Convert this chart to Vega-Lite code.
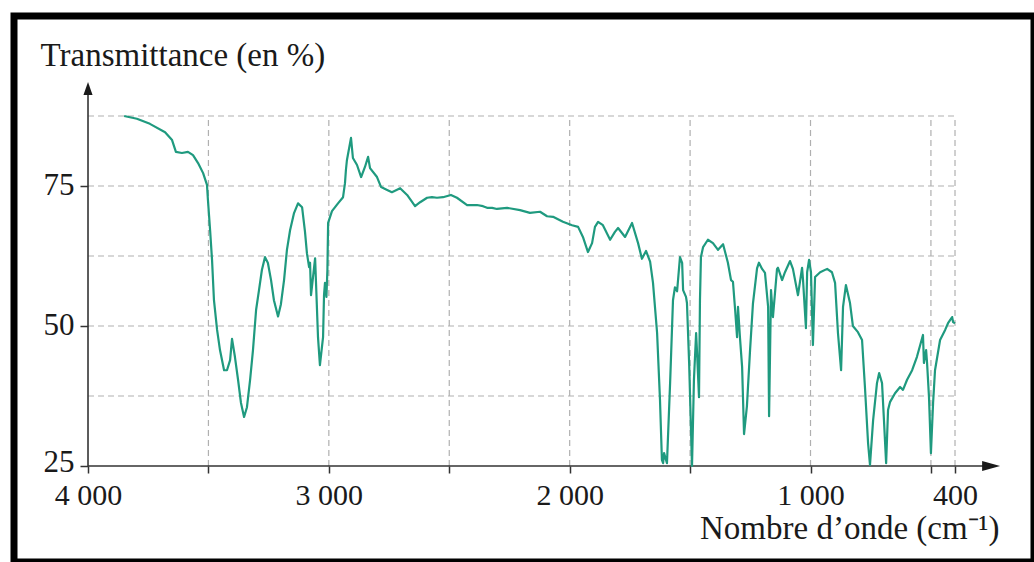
{
  "$schema": "https://vega.github.io/schema/vega-lite/v6.json",
  "width": 1020,
  "height": 546,
  "autosize": "none",
  "padding": {"left": 14, "top": 16, "right": 0, "bottom": 0},
  "background": "white",
  "config": {"view": {"stroke": "#000000", "strokeWidth": 7}},
  "datasets": {
    "grid": [
      {"x": 3500, "x2": 3500, "y": 25, "y2": 87.5},
      {"x": 3000, "x2": 3000, "y": 25, "y2": 87.5},
      {"x": 2500, "x2": 2500, "y": 25, "y2": 87.5},
      {"x": 2000, "x2": 2000, "y": 25, "y2": 87.5},
      {"x": 1500, "x2": 1500, "y": 25, "y2": 87.5},
      {"x": 1000, "x2": 1000, "y": 25, "y2": 87.5},
      {"x": 500, "x2": 500, "y": 25, "y2": 87.5},
      {"x": 400, "x2": 400, "y": 25, "y2": 87.5},
      {"x": 4000, "x2": 400, "y": 37.5, "y2": 37.5},
      {"x": 4000, "x2": 400, "y": 50, "y2": 50},
      {"x": 4000, "x2": 400, "y": 62.5, "y2": 62.5},
      {"x": 4000, "x2": 400, "y": 75, "y2": 75},
      {"x": 4000, "x2": 400, "y": 87.5, "y2": 87.5}
    ],
    "axislines": [
      {"x": 4000, "x2": 272, "y": 25, "y2": 25},
      {"x": 4000, "x2": 4000, "y": 25, "y2": 91.8}
    ],
    "arrowx": [{"x": 250, "y": 25}],
    "arrowy": [{"x": 4000, "y": 92.4}],
    "spectrum": [
      {"x": 3850, "y": 87.5},
      {"x": 3797, "y": 87.0},
      {"x": 3743, "y": 86.1},
      {"x": 3680, "y": 84.6},
      {"x": 3651, "y": 83.2},
      {"x": 3635, "y": 81.1},
      {"x": 3610, "y": 80.9},
      {"x": 3585, "y": 81.1},
      {"x": 3564, "y": 80.5},
      {"x": 3543, "y": 79.1},
      {"x": 3522, "y": 77.3},
      {"x": 3506, "y": 75.2},
      {"x": 3502, "y": 72.5},
      {"x": 3493, "y": 67.1},
      {"x": 3485, "y": 61.8},
      {"x": 3477, "y": 54.6},
      {"x": 3464, "y": 49.3},
      {"x": 3452, "y": 45.7},
      {"x": 3435, "y": 42.1},
      {"x": 3423, "y": 42.1},
      {"x": 3410, "y": 43.9},
      {"x": 3402, "y": 47.7},
      {"x": 3390, "y": 44.5},
      {"x": 3377, "y": 40.4},
      {"x": 3365, "y": 36.3},
      {"x": 3352, "y": 33.75},
      {"x": 3340, "y": 35.5},
      {"x": 3327, "y": 40.4},
      {"x": 3315, "y": 45.7},
      {"x": 3302, "y": 52.9},
      {"x": 3290, "y": 56.4},
      {"x": 3278, "y": 60.0},
      {"x": 3265, "y": 62.3},
      {"x": 3253, "y": 61.25},
      {"x": 3240, "y": 58.2},
      {"x": 3228, "y": 54.6},
      {"x": 3211, "y": 51.7},
      {"x": 3199, "y": 53.9},
      {"x": 3186, "y": 58.2},
      {"x": 3174, "y": 63.6},
      {"x": 3161, "y": 67.1},
      {"x": 3145, "y": 70.1},
      {"x": 3128, "y": 71.9},
      {"x": 3111, "y": 71.2},
      {"x": 3099, "y": 66.8},
      {"x": 3091, "y": 63.0},
      {"x": 3082, "y": 60.5},
      {"x": 3078, "y": 61.3},
      {"x": 3074, "y": 55.5},
      {"x": 3057, "y": 62.1},
      {"x": 3045, "y": 48.0},
      {"x": 3037, "y": 43.0},
      {"x": 3024, "y": 48.0},
      {"x": 3020, "y": 55.5},
      {"x": 3016, "y": 57.7},
      {"x": 3010, "y": 55.2},
      {"x": 3006, "y": 60.0},
      {"x": 3003, "y": 68.4},
      {"x": 2987, "y": 70.5},
      {"x": 2962, "y": 71.9},
      {"x": 2941, "y": 73.0},
      {"x": 2933, "y": 75.5},
      {"x": 2929, "y": 77.9},
      {"x": 2925, "y": 79.6},
      {"x": 2908, "y": 83.6},
      {"x": 2900, "y": 80.0},
      {"x": 2883, "y": 78.75},
      {"x": 2866, "y": 76.6},
      {"x": 2850, "y": 78.4},
      {"x": 2837, "y": 80.2},
      {"x": 2829, "y": 78.2},
      {"x": 2800, "y": 76.6},
      {"x": 2783, "y": 74.8},
      {"x": 2758, "y": 74.3},
      {"x": 2738, "y": 73.9},
      {"x": 2704, "y": 74.6},
      {"x": 2675, "y": 73.4},
      {"x": 2642, "y": 71.4},
      {"x": 2621, "y": 72.1},
      {"x": 2592, "y": 72.9},
      {"x": 2572, "y": 73.0},
      {"x": 2551, "y": 72.9},
      {"x": 2526, "y": 73.0},
      {"x": 2493, "y": 73.4},
      {"x": 2468, "y": 72.9},
      {"x": 2426, "y": 71.6},
      {"x": 2385, "y": 71.6},
      {"x": 2360, "y": 71.4},
      {"x": 2343, "y": 71.1},
      {"x": 2322, "y": 71.1},
      {"x": 2302, "y": 70.9},
      {"x": 2260, "y": 71.1},
      {"x": 2206, "y": 70.7},
      {"x": 2165, "y": 70.2},
      {"x": 2123, "y": 70.4},
      {"x": 2094, "y": 69.6},
      {"x": 2069, "y": 69.5},
      {"x": 2028, "y": 68.6},
      {"x": 1990, "y": 68.0},
      {"x": 1965, "y": 67.7},
      {"x": 1945, "y": 65.9},
      {"x": 1924, "y": 63.2},
      {"x": 1907, "y": 64.8},
      {"x": 1895, "y": 67.7},
      {"x": 1882, "y": 68.6},
      {"x": 1862, "y": 68.0},
      {"x": 1832, "y": 65.4},
      {"x": 1812, "y": 66.8},
      {"x": 1799, "y": 67.5},
      {"x": 1770, "y": 65.9},
      {"x": 1741, "y": 68.4},
      {"x": 1716, "y": 64.8},
      {"x": 1700, "y": 62.0},
      {"x": 1683, "y": 63.4},
      {"x": 1666, "y": 61.5},
      {"x": 1654, "y": 57.7},
      {"x": 1637, "y": 48.75},
      {"x": 1625, "y": 36.8},
      {"x": 1617, "y": 26.1},
      {"x": 1612, "y": 25.5},
      {"x": 1608, "y": 27.3},
      {"x": 1596, "y": 25.5},
      {"x": 1583, "y": 39.8},
      {"x": 1571, "y": 54.6},
      {"x": 1563, "y": 56.9},
      {"x": 1554, "y": 56.2},
      {"x": 1542, "y": 62.3},
      {"x": 1533, "y": 61.25},
      {"x": 1529, "y": 56.4},
      {"x": 1517, "y": 55.2},
      {"x": 1513, "y": 54.1},
      {"x": 1504, "y": 43.4},
      {"x": 1492, "y": 25.0},
      {"x": 1484, "y": 40.4},
      {"x": 1475, "y": 48.75},
      {"x": 1471, "y": 45.2},
      {"x": 1463, "y": 37.3},
      {"x": 1459, "y": 54.6},
      {"x": 1455, "y": 62.3},
      {"x": 1446, "y": 64.1},
      {"x": 1426, "y": 65.4},
      {"x": 1405, "y": 64.8},
      {"x": 1384, "y": 63.6},
      {"x": 1363, "y": 64.6},
      {"x": 1343, "y": 61.3},
      {"x": 1330, "y": 58.2},
      {"x": 1322, "y": 57.9},
      {"x": 1313, "y": 52.9},
      {"x": 1305, "y": 48.0},
      {"x": 1301, "y": 53.4},
      {"x": 1293, "y": 48.0},
      {"x": 1284, "y": 42.7},
      {"x": 1276, "y": 30.7},
      {"x": 1264, "y": 35.7},
      {"x": 1251, "y": 45.7},
      {"x": 1239, "y": 54.0},
      {"x": 1222, "y": 60.3},
      {"x": 1214, "y": 61.3},
      {"x": 1201, "y": 60.2},
      {"x": 1189, "y": 59.5},
      {"x": 1176, "y": 53.4},
      {"x": 1172, "y": 33.9},
      {"x": 1164, "y": 56.4},
      {"x": 1156, "y": 51.6},
      {"x": 1139, "y": 60.2},
      {"x": 1135, "y": 60.4},
      {"x": 1118, "y": 58.2},
      {"x": 1106, "y": 59.6},
      {"x": 1085, "y": 61.6},
      {"x": 1073, "y": 60.2},
      {"x": 1052, "y": 55.5},
      {"x": 1035, "y": 60.4},
      {"x": 1031, "y": 58.2},
      {"x": 1019, "y": 49.6},
      {"x": 1014, "y": 59.6},
      {"x": 1006, "y": 61.8},
      {"x": 998, "y": 59.6},
      {"x": 990, "y": 46.6},
      {"x": 981, "y": 58.75},
      {"x": 960, "y": 59.6},
      {"x": 931, "y": 60.2},
      {"x": 911, "y": 59.6},
      {"x": 898, "y": 57.7},
      {"x": 886, "y": 48.75},
      {"x": 873, "y": 42.1},
      {"x": 865, "y": 53.4},
      {"x": 853, "y": 57.3},
      {"x": 836, "y": 54.1},
      {"x": 824, "y": 50.0},
      {"x": 803, "y": 48.9},
      {"x": 786, "y": 47.5},
      {"x": 774, "y": 39.1},
      {"x": 761, "y": 29.1},
      {"x": 753, "y": 25.2},
      {"x": 740, "y": 33.2},
      {"x": 724, "y": 39.8},
      {"x": 715, "y": 41.6},
      {"x": 703, "y": 39.8},
      {"x": 695, "y": 33.2},
      {"x": 686, "y": 25.5},
      {"x": 678, "y": 35.0},
      {"x": 670, "y": 36.4},
      {"x": 649, "y": 38.0},
      {"x": 628, "y": 39.1},
      {"x": 616, "y": 38.6},
      {"x": 599, "y": 40.4},
      {"x": 578, "y": 42.1},
      {"x": 558, "y": 44.5},
      {"x": 533, "y": 48.4},
      {"x": 529, "y": 43.4},
      {"x": 520, "y": 45.7},
      {"x": 516, "y": 43.4},
      {"x": 508, "y": 37.3},
      {"x": 500, "y": 27.3},
      {"x": 491, "y": 36.25},
      {"x": 483, "y": 42.1},
      {"x": 462, "y": 47.5},
      {"x": 441, "y": 49.3},
      {"x": 429, "y": 50.5},
      {"x": 412, "y": 51.6},
      {"x": 408, "y": 50.7},
      {"x": 400, "y": 50.5}
    ]
  },
  "layer": [
    {
      "data": {"name": "grid"},
      "mark": {"type": "rule", "stroke": "#b0b0b0", "strokeWidth": 1.2, "strokeDash": [6, 4]},
      "encoding": {
        "x": {
          "field": "x", "type": "quantitative",
          "scale": {"domain": [72, 4307.3], "reverse": true, "nice": false, "zero": false},
          "axis": {
            "orient": "bottom", "offset": -96, "domain": false, "grid": false,
            "values": [4000, 3500, 3000, 2500, 2000, 1500, 1000, 500, 400],
            "labelExpr": "datum.value == 4000 ? '4 000' : datum.value == 3000 ? '3 000' : datum.value == 2000 ? '2 000' : datum.value == 1000 ? '1 000' : datum.value == 400 ? '400' : ''",
            "ticks": true, "tickSize": 7, "tickColor": "#333333", "tickWidth": 1.5,
            "labelFont": "Liberation Serif", "labelFontSize": 30, "labelColor": "#1a1a1a",
            "labelPadding": 7, "labelFlush": false, "labelOverlap": false, "labelBound": false,
            "title": "Nombre d’onde (cm⁻¹)", "titleFont": "Liberation Serif", "titleFontSize": 33,
            "titleFontWeight": "normal", "titleColor": "#1a1a1a", "titleAlign": "right",
            "titleBaseline": "alphabetic", "titleX": 985, "titleY": 72
          }
        },
        "x2": {"field": "x2"},
        "y": {
          "field": "y", "type": "quantitative",
          "scale": {"domain": [7.857, 105.357], "nice": false, "zero": false},
          "axis": {
            "orient": "left", "offset": -74, "domain": false, "grid": false,
            "values": [25, 50, 75],
            "ticks": true, "tickSize": 8, "tickColor": "#333333", "tickWidth": 1.5,
            "labelFont": "Liberation Serif", "labelFontSize": 31, "labelColor": "#1a1a1a",
            "labelPadding": 6, "labelFlush": false, "labelOverlap": false, "labelBound": false,
            "labelOffset": {"condition": {"test": "datum.value == 25", "value": -3}, "value": 0},
            "title": "Transmittance (en %)", "titleFont": "Liberation Serif", "titleFontSize": 33,
            "titleFontWeight": "normal", "titleColor": "#1a1a1a", "titleAngle": 0,
            "titleAlign": "left", "titleBaseline": "alphabetic", "titleX": -48, "titleY": 49
          }
        },
        "y2": {"field": "y2"}
      }
    },
    {
      "data": {"name": "axislines"},
      "mark": {"type": "rule", "stroke": "#333333", "strokeWidth": 1.6},
      "encoding": {
        "x": {"field": "x", "type": "quantitative"},
        "x2": {"field": "x2"},
        "y": {"field": "y", "type": "quantitative"},
        "y2": {"field": "y2"}
      }
    },
    {
      "data": {"name": "spectrum"},
      "mark": {"type": "line", "color": "#1f9a7f", "strokeWidth": 2.2, "strokeJoin": "round"},
      "encoding": {
        "x": {"field": "x", "type": "quantitative"},
        "y": {"field": "y", "type": "quantitative"}
      }
    },
    {
      "data": {"name": "arrowx"},
      "mark": {"type": "point", "filled": true, "opacity": 1, "color": "#1a1a1a", "shape": "M-1,-0.55L1,0L-1,0.55Z", "size": 324},
      "encoding": {
        "x": {"field": "x", "type": "quantitative"},
        "y": {"field": "y", "type": "quantitative"}
      }
    },
    {
      "data": {"name": "arrowy"},
      "mark": {"type": "point", "filled": true, "opacity": 1, "color": "#1a1a1a", "shape": "M-0.7,1L0,-1L0.7,1Z", "size": 169},
      "encoding": {
        "x": {"field": "x", "type": "quantitative"},
        "y": {"field": "y", "type": "quantitative"}
      }
    }
  ]
}
